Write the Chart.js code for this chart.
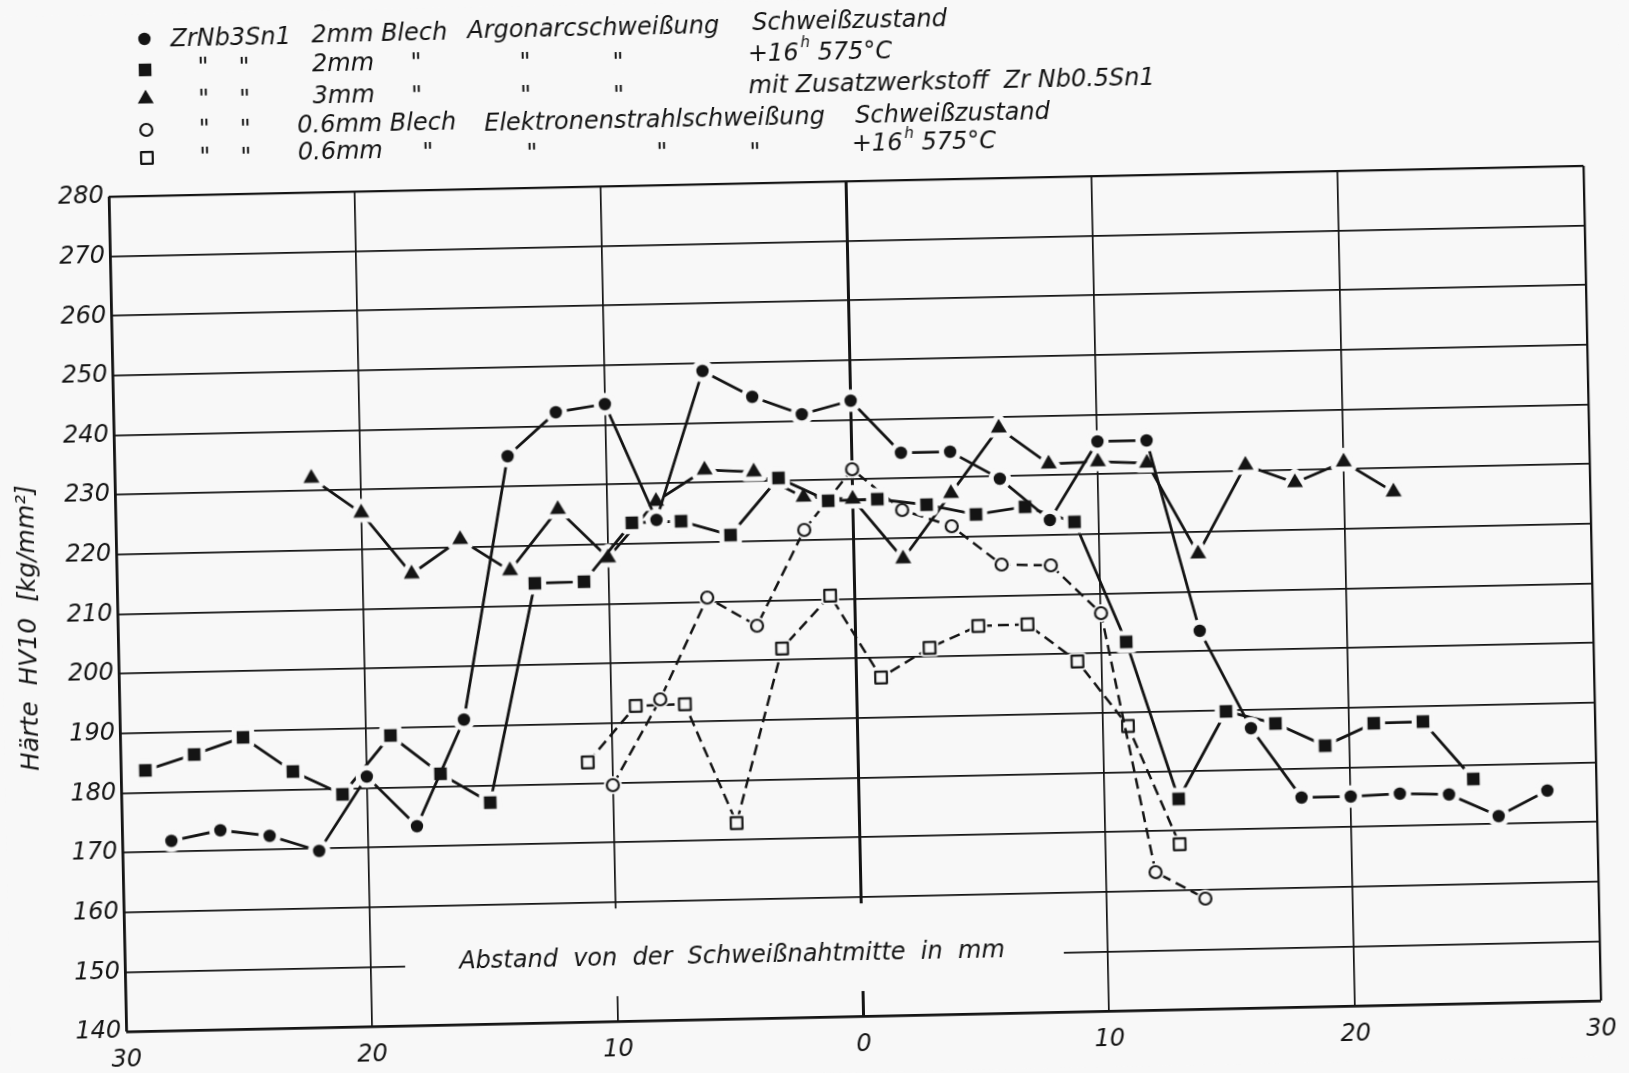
<!DOCTYPE html>
<html lang="de">
<head>
<meta charset="utf-8">
<title>Härte HV10 – ZrNb3Sn1 Schweißverbindungen</title>
<script src="https://cdn.jsdelivr.net/npm/chart.js@4.4.1/dist/chart.umd.min.js"></script>
<style>
    html, body { margin: 0; padding: 0; background: #f8f8f8; overflow: hidden; }
    /* the sheet sits slightly skewed, as it lay on the copy stand */
    #sheet {
        position: absolute; left: 0; top: 0;
        width: 1629px; height: 1073px;
        transform: rotate(-1.2deg);
        transform-origin: 50% 50%;
    }
</style>
</head>
<body>
<div id="sheet"><canvas id="hv-chart" width="1629" height="1073"></canvas></div>
<script>
// Distance from weld centre line [mm] and hardness HV10 [kg/mm²]

// ZrNb3Sn1 2 mm sheet, argon arc, as welded
const posArcWelded = [-28, -26, -24, -22, -20, -18, -16, -14, -12, -10, -8, -6, -4, -2, 0,
    2, 4, 6, 8, 10, 12, 14, 16, 18, 20, 22, 24, 26, 28];
const hvArcWelded = [171.8, 173.4, 172.3, 169.6, 181.9, 173.4, 191.1, 235.1, 242.3, 243.5, 223.9, 248.7, 244.2, 241.1, 243.2,
    234.3, 234.3, 229.6, 222.5, 235.5, 235.5, 203.4, 186.9, 175.1, 175.1, 175.4, 175.1, 171.3, 175.4];

// 2 mm, argon arc, + 16 h 575 °C
const posArcAnnealed = [-29, -27, -25, -23, -21, -19, -17, -15, -13, -11, -9, -7, -5, -3, -1,
    1, 3, 5, 7, 9, 11, 13, 15, 17, 19, 21, 23, 25];
const hvArcAnnealed = [183.7, 186.2, 188.9, 183.0, 179.0, 188.7, 182.1, 177.1, 213.7, 213.8, 223.5, 223.6, 221.1, 230.5, 226.5,
    226.6, 225.5, 223.7, 224.8, 222.1, 201.8, 175.3, 189.8, 187.6, 183.7, 187.3, 187.4, 177.6];

// 3 mm, argon arc, filler ZrNb0.5Sn1
const posArcFiller = [-22, -20, -18, -16, -14, -12, -10, -8, -6, -4, -2, 0,
    2, 4, 6, 8, 10, 12, 14, 16, 18, 20, 22];
const hvArcFiller = [232.1, 226.1, 215.7, 221.3, 215.9, 226.0, 217.7, 227.0, 232.1, 231.6, 227.2, 226.7,
    216.5, 227.3, 238.1, 231.9, 232.1, 231.7, 216.3, 231.0, 227.9, 231.2, 226.0];

// 0.6 mm sheet, electron beam, as welded
const posEbWelded = [-10, -8, -6, -4, -2, 0, 2, 4, 6, 8, 10, 12, 14];
const hvEbWelded = [179.6, 193.8, 210.7, 205.8, 221.7, 231.7, 224.7, 221.8, 215.2, 214.9, 206.7, 163.1, 158.5];

// 0.6 mm, electron beam, + 16 h 575 °C
const posEbAnnealed = [-11, -9, -7, -5, -3, -1, 1, 3, 5, 7, 9, 11, 13];
const hvEbAnnealed = [183.5, 192.8, 192.9, 172.8, 201.9, 210.6, 196.7, 201.5, 205.0, 205.1, 198.7, 187.7, 167.7];

const xRange = [-30, 30];
const yRange = [140, 280];

const INK = '#141414';
const PAPER = '#f8f8f8';
const FONT = "'DejaVu Sans', 'Liberation Sans', sans-serif";

function toPoints(xs, ys) {
    return xs.map((x, i) => ({ x: x, y: ys[i] }));
}

// Marker sprites with a paper-coloured halo so the lines stop short of the symbol
function shapePath(g, shape) {
    g.beginPath();
    if (shape === 'circle') {
        g.arc(0, 0, 6.2, 0, Math.PI * 2);
    } else if (shape === 'ring') {
        g.arc(0, 0, 6, 0, Math.PI * 2);
    } else if (shape === 'square') {
        g.rect(-6.3, -6.3, 12.6, 12.6);
    } else if (shape === 'box') {
        g.rect(-5.8, -5.8, 11.6, 11.6);
    } else if (shape === 'triangle') {
        g.moveTo(0, -9.2);
        g.lineTo(8, 4.6);
        g.lineTo(-8, 4.6);
        g.closePath();
    }
}

function makeMarker(shape, filled) {
    const c = document.createElement('canvas');
    c.width = 40;
    c.height = 40;
    const g = c.getContext('2d');
    g.translate(20, 20);
    g.lineJoin = 'round';
    shapePath(g, shape);
    g.strokeStyle = PAPER;
    g.lineWidth = filled ? 10 : 6;
    g.stroke();
    if (filled) {
        g.fillStyle = INK;
        g.fill();
    } else {
        g.fillStyle = PAPER;
        g.fill();
        g.strokeStyle = INK;
        g.lineWidth = 2.2;
        g.stroke();
    }
    return c;
}

const markers = {
    dot: makeMarker('circle', true),
    square: makeMarker('square', true),
    triangle: makeMarker('triangle', true),
    ring: makeMarker('ring', false),
    box: makeMarker('box', false)
};

function series(label, xs, ys, marker, dashed) {
    return {
        label: label,
        data: toPoints(xs, ys),
        borderColor: INK,
        borderWidth: dashed ? 2.5 : 2.8,
        borderDash: dashed ? [11, 6] : [],
        pointStyle: marker,
        pointRadius: 6,
        tension: 0,
        fill: false
    };
}

// Typed key above the diagram: [x, y, text, centred]
const keyRows = [
    { mark: markers.dot, at: [155, 25], parts: [
        [181, 27, 'ZrNb3Sn1'], [322, 26, '2mm Blech'], [478, 24.5, 'Argonarcschweißung'], [763, 22.5, 'Schweißzustand']] },
    { mark: markers.square, at: [155, 56], parts: [
        [213, 56, '"', 1], [254, 57, '"', 1], [322, 54.5, '2mm'],
        [426, 56, '"', 1], [535, 58, '"', 1], [628, 60, '"', 1], [758, 53.6, '+16^h 575°C']] },
    { mark: markers.triangle, at: [155, 85], parts: [
        [213, 88, '"', 1], [254, 89, '"', 1], [322, 86.5, '3mm'],
        [426, 89, '"', 1], [535, 91, '"', 1], [628, 93, '"', 1], [758, 86, 'mit Zusatzwerkstoff  Zr Nb0.5Sn1']] },
    { mark: markers.ring, at: [155, 116], parts: [
        [213, 117.4, '"', 1], [254, 118.3, '"', 1], [306, 115.5, '0.6mm Blech'],
        [493, 117.5, 'Elektronenstrahlschweißung'], [864, 117.5, 'Schweißzustand']] },
    { mark: markers.box, at: [155, 144], parts: [
        [213, 145.4, '"', 1], [254, 146.3, '"', 1], [306, 142.5, '0.6mm'],
        [436, 146, '"', 1], [540, 148.5, '"', 1], [670, 151, '"', 1], [763, 153, '"', 1],
        [860, 146, '+16^h 575°C']] }
];

function drawRich(ctx, x, y, text, size) {
    const cut = text.indexOf('^');
    if (cut < 0) {
        ctx.fillText(text, x, y);
        return;
    }
    const head = text.slice(0, cut);
    const sup = text.charAt(cut + 1);
    const tail = text.slice(cut + 2);
    ctx.fillText(head, x, y);
    let cx = x + ctx.measureText(head).width;
    ctx.save();
    ctx.font = `italic ${Math.round(size * 0.62)}px ${FONT}`;
    ctx.fillText(sup, cx + 2, y - size * 0.42);
    cx += ctx.measureText(sup).width + 2;
    ctx.restore();
    ctx.fillText(tail, cx, y);
}

const paperPlugin = {
    id: 'paper',
    beforeDraw(chart) {
        const ctx = chart.ctx;
        ctx.save();
        ctx.fillStyle = PAPER;
        ctx.fillRect(0, 0, chart.width, chart.height);
        ctx.restore();
    },
    beforeDatasetsDraw(chart) {
        // abscissa caption is lettered inside the grid, with the lines left open round it
        const { ctx, scales: { x, y } } = chart;
        const l = x.getPixelForValue(-18.6);
        const r = x.getPixelForValue(8.2);
        const t = y.getPixelForValue(158.9);
        const b = y.getPixelForValue(144.2);
        ctx.save();
        ctx.fillStyle = PAPER;
        ctx.fillRect(l, t, r - l, b - t);
        ctx.fillStyle = INK;
        ctx.font = `italic 24px ${FONT}`;
        ctx.textAlign = 'center';
        ctx.textBaseline = 'middle';
        ctx.fillText('Abstand  von  der  Schweißnahtmitte  in  mm', x.getPixelForValue(-5.3), y.getPixelForValue(150.4));
        ctx.restore();
    },
    afterDraw(chart) {
        const ctx = chart.ctx;
        const area = chart.chartArea;
        ctx.save();
        ctx.fillStyle = INK;

        // ordinate caption
        ctx.save();
        ctx.translate(27, (area.top + area.bottom) / 2 + 12);
        ctx.rotate(-Math.PI / 2);
        ctx.font = `italic 25px ${FONT}`;
        ctx.textAlign = 'center';
        ctx.textBaseline = 'middle';
        ctx.fillText('Härte  HV10  [kg/mm²]', 0, 0);
        ctx.restore();

        // key
        const size = 24;
        ctx.font = `italic ${size}px ${FONT}`;
        ctx.textBaseline = 'middle';
        keyRows.forEach(row => {
            ctx.drawImage(row.mark, row.at[0] - row.mark.width / 2, row.at[1] - row.mark.height / 2);
            row.parts.forEach(([px, py, text, centred]) => {
                ctx.textAlign = centred ? 'center' : 'left';
                drawRich(ctx, px, py, text, size);
            });
        });
        ctx.restore();
    }
};

function gridWidth(edgeLow, edgeHigh, heavy) {
    return ctx => {
        const v = ctx.tick.value;
        if (v === heavy) return 3;
        if (v === edgeLow) return 2.8;
        if (v === edgeHigh) return 2.3;
        return 1.7;
    };
}

const tickFont = { family: FONT, size: 24, style: 'italic' };

new Chart(document.getElementById('hv-chart'), {
    type: 'line',
    data: {
        datasets: [
            series('ZrNb3Sn1 2mm Blech Argonarcschweißung Schweißzustand', posArcWelded, hvArcWelded, markers.dot, false),
            series('2mm Argonarcschweißung +16h 575°C', posArcAnnealed, hvArcAnnealed, markers.square, false),
            series('3mm Argonarcschweißung mit Zusatzwerkstoff ZrNb0.5Sn1', posArcFiller, hvArcFiller, markers.triangle, false),
            series('0.6mm Blech Elektronenstrahlschweißung Schweißzustand', posEbWelded, hvEbWelded, markers.ring, true),
            series('0.6mm Elektronenstrahlschweißung +16h 575°C', posEbAnnealed, hvEbAnnealed, markers.box, true)
        ]
    },
    options: {
        responsive: false,
        animation: false,
        devicePixelRatio: 1,
        layout: { padding: { left: 0, top: 182, right: 38, bottom: 0 } },
        plugins: {
            legend: { display: false },
            tooltip: { enabled: false }
        },
        scales: {
            x: {
                type: 'linear',
                min: xRange[0],
                max: xRange[1],
                afterFit: s => { s.height = 56; },
                border: { display: false },
                grid: { color: INK, drawTicks: false, lineWidth: gridWidth(-30, 30, 0) },
                ticks: {
                    stepSize: 10,
                    padding: 14,
                    color: INK,
                    font: tickFont,
                    callback: v => Math.abs(v)
                }
            },
            y: {
                type: 'linear',
                min: yRange[0],
                max: yRange[1],
                afterFit: s => { s.width = 116; },
                border: { display: false },
                grid: { color: INK, drawTicks: false, lineWidth: gridWidth(140, 280, null) },
                ticks: {
                    stepSize: 10,
                    padding: 5,
                    color: INK,
                    font: tickFont
                }
            }
        }
    },
    plugins: [paperPlugin]
});
</script>
</body>
</html>
